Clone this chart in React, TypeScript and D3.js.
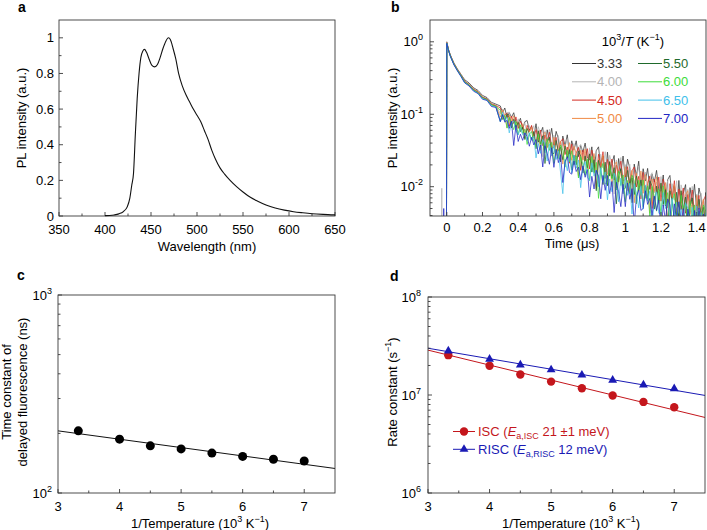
import React from 'react';
import * as d3 from 'd3';

const FONT = "'Liberation Sans', Arial, Helvetica, sans-serif";
const W = 707;
const H = 530;

// ---------- Panel a: PL spectrum ----------
const wavelength = [400, 405, 410, 415, 420, 424, 427, 429, 431, 433, 435, 437, 439, 441, 443, 445, 448, 451, 454, 457, 460, 463, 466, 469, 471, 474, 477, 480, 484, 488, 492, 496, 500, 504, 508, 512, 516, 520, 525, 530, 536, 543, 550, 558, 566, 575, 585, 595, 605, 615, 625, 637, 650];
const plIntensity = [0.002, 0.003, 0.006, 0.012, 0.025, 0.05, 0.1, 0.17, 0.24, 0.46, 0.66, 0.8, 0.89, 0.925, 0.935, 0.92, 0.88, 0.845, 0.837, 0.85, 0.89, 0.94, 0.98, 1.0, 0.99, 0.94, 0.88, 0.8, 0.73, 0.68, 0.64, 0.6, 0.565, 0.53, 0.48, 0.43, 0.37, 0.32, 0.27, 0.235, 0.2, 0.165, 0.135, 0.105, 0.083, 0.062, 0.045, 0.033, 0.024, 0.018, 0.013, 0.009, 0.006];
const specXTicks = [350, 400, 450, 500, 550, 600, 650];
const specYTicks = [0, 0.2, 0.4, 0.6, 0.8, 1];

// ---------- Panel b: transient PL decays ----------
const legendTemps = ['3.33', '4.00', '4.50', '5.00', '5.50', '6.00', '6.50', '7.00'];
const decayColors = ['#333333', '#b4b4b4', '#d42a22', '#f08a45', '#1f6a2c', '#3ddc3a', '#40c0ea', '#2226c4'];
const preTimes = [-0.1, -0.03, -0.028, -0.026, -0.019, -0.017, -0.015, -0.002];
const preValues = [
  [0.001, 0.001, 0.001, 0.001, 0.001, 0.001, 0.001, 0.001],
  [0.001, 0.001, 0.0095, 0.001, 0.001, 0.001, 0.001, 0.001],
  [0.001, 0.001, 0.001, 0.001, 0.001, 0.001, 0.001, 0.001],
  [0.001, 0.001, 0.001, 0.001, 0.001, 0.001, 0.001, 0.001],
  [0.001, 0.001, 0.001, 0.001, 0.001, 0.001, 0.001, 0.001],
  [0.001, 0.001, 0.001, 0.001, 0.001, 0.001, 0.001, 0.001],
  [0.001, 0.001, 0.001, 0.001, 0.001, 0.001, 0.001, 0.001],
  [0.001, 0.001, 0.001, 0.001, 0.001, 0.005, 0.001, 0.001],
];
const earlyTimes = [0, 0.01, 0.02, 0.04, 0.06, 0.08, 0.1, 0.125, 0.15, 0.175, 0.2, 0.225, 0.25, 0.275];
const earlyValues = [
  [1.0, 0.78, 0.66, 0.51, 0.42, 0.355, 0.3, 0.27, 0.232, 0.213, 0.182, 0.17, 0.146, 0.138],
  [0.98, 0.77, 0.65, 0.5, 0.415, 0.35, 0.288, 0.262, 0.225, 0.206, 0.176, 0.164, 0.141, 0.133],
  [0.97, 0.77, 0.65, 0.5, 0.41, 0.345, 0.286, 0.257, 0.222, 0.204, 0.172, 0.163, 0.139, 0.132],
  [0.97, 0.76, 0.64, 0.495, 0.41, 0.343, 0.283, 0.255, 0.22, 0.202, 0.171, 0.161, 0.137, 0.131],
  [0.96, 0.76, 0.64, 0.49, 0.405, 0.34, 0.28, 0.253, 0.217, 0.199, 0.169, 0.16, 0.135, 0.129],
  [0.96, 0.76, 0.635, 0.49, 0.4, 0.337, 0.277, 0.25, 0.214, 0.197, 0.167, 0.158, 0.134, 0.128],
  [0.95, 0.75, 0.63, 0.485, 0.4, 0.333, 0.274, 0.248, 0.211, 0.195, 0.164, 0.157, 0.131, 0.126],
  [0.95, 0.75, 0.63, 0.48, 0.395, 0.33, 0.271, 0.245, 0.208, 0.193, 0.161, 0.155, 0.128, 0.124],
];
// noisy tails, sampled every 0.0125 us from 0.3 to 1.5 us, in units of 1e-4
const lateTimes = d3.range(97).map((i) => 0.3 + i * 0.0125);
const late333 = [
  1300, 1050, 1220, 890, 1050, 910, 1050, 770,
  750, 880, 620, 790, 820, 600, 680, 500,
  740, 410, 550, 660, 320, 610, 430, 640,
  370, 580, 460, 220, 500, 365, 520, 280,
  430, 320, 430, 260, 370, 300, 400, 250,
  235, 355, 160, 315, 355, 185, 265, 130,
  300, 140, 210, 270, 96, 245, 155, 265,
  130, 240, 180, 60, 205, 140, 225, 98,
  177, 120, 179, 92, 149, 116, 168, 90,
  87, 145, 54, 125, 143, 67, 104, 41,
  122, 48, 81, 107, 29, 97, 58, 108,
  47, 96, 70, 20, 83, 52, 93, 34,
  60,
];
const late400 = [
  1015, 1184, 820, 1041, 1072, 781, 872, 638,
  865, 610, 695, 762, 502, 698, 561, 696,
  433, 673, 534, 260, 592, 433, 621, 330,
  514, 376, 508, 307, 428, 351, 460, 287,
  287, 394, 216, 350, 383, 234, 300, 178,
  344, 160, 241, 309, 111, 281, 181, 304,
  149, 271, 204, 79, 234, 158, 253, 111,
  202, 137, 204, 106, 170, 133, 192, 104,
  105, 159, 71, 139, 156, 82, 116, 57,
  138, 54, 92, 121, 33, 110, 65, 121,
  52, 106, 77, 23, 92, 57, 101, 38,
  79, 50, 81, 37, 66, 49, 76, 37,
  53,
];
const late450 = [
  1223, 854, 962, 1046, 683, 939, 745, 919,
  636, 805, 685, 464, 705, 576, 703, 476,
  614, 449, 606, 369, 517, 428, 565, 351,
  349, 479, 261, 421, 459, 278, 354, 211,
  388, 217, 291, 349, 168, 320, 226, 335,
  176, 320, 242, 94, 281, 190, 304, 132,
  238, 161, 241, 124, 199, 155, 225, 121,
  125, 189, 85, 166, 187, 99, 139, 68,
  158, 73, 110, 140, 50, 127, 82, 136,
  63, 127, 93, 27, 110, 70, 121, 45,
  93, 59, 96, 43, 78, 57, 90, 43,
  45, 76, 28, 65, 75, 35, 55, 22,
  50,
];
const late500 = [
  918, 1151, 970, 651, 979, 791, 956, 642,
  771, 633, 741, 545, 650, 568, 662, 488,
  427, 583, 317, 516, 567, 346, 445, 264,
  482, 269, 358, 427, 205, 388, 272, 406,
  231, 361, 288, 140, 318, 232, 333, 176,
  283, 192, 287, 149, 240, 187, 271, 147,
  148, 224, 100, 197, 220, 116, 165, 80,
  189, 88, 132, 168, 60, 153, 98, 165,
  81, 147, 111, 43, 128, 86, 137, 60,
  111, 71, 114, 51, 93, 70, 107, 52,
  54, 88, 33, 77, 88, 41, 64, 25,
  76, 30, 51, 67, 18, 61, 36, 68,
  47,
];
const late550 = [
  796, 992, 806, 1012, 901, 650, 851, 666,
  770, 576, 665, 447, 634, 539, 440, 578,
  334, 593, 388, 502, 209, 407, 482, 292,
  286, 434, 309, 351, 236, 364, 251, 325,
  170, 271, 200, 309, 265, 154, 266, 183,
  284, 159, 236, 88, 231, 170, 107, 218,
  103, 221, 131, 183, 58, 141, 177, 92,
  95, 168, 109, 132, 78, 141, 89, 124,
  53, 102, 67, 121, 102, 49, 102, 64,
  112, 57, 91, 25, 88, 63, 35, 84,
  35, 88, 48, 72, 17, 54, 70, 33,
  35, 67, 41, 52, 27, 56, 33, 50,
  40,
];
const late600 = [
  1141, 845, 966, 643, 902, 760, 612, 799,
  524, 717, 544, 623, 383, 528, 575, 421,
  352, 533, 379, 433, 293, 456, 317, 409,
  210, 333, 244, 376, 321, 186, 318, 220,
  314, 200, 267, 132, 259, 204, 144, 242,
  121, 262, 155, 217, 69, 168, 210, 109,
  112, 196, 127, 154, 90, 164, 104, 145,
  62, 122, 80, 144, 121, 58, 123, 76,
  124, 69, 103, 38, 100, 73, 46, 93,
  40, 103, 56, 83, 19, 62, 80, 38,
  39, 76, 47, 59, 31, 64, 38, 56,
  19, 46, 28, 56, 46, 19, 48, 27,
  37,
];
const late650 = [
  787, 1068, 801, 909, 553, 754, 812, 591,
  518, 653, 520, 555, 434, 552, 438, 495,
  250, 396, 289, 449, 387, 226, 390, 268,
  373, 237, 315, 155, 80, 237, 166, 281,
  154, 274, 180, 234, 97, 188, 222, 135,
  122, 214, 140, 170, 100, 181, 115, 160,
  66, 128, 85, 153, 128, 62, 131, 80,
  136, 76, 112, 42, 110, 81, 51, 103,
  49, 106, 63, 88, 28, 68, 85, 43,
  42, 83, 50, 63, 34, 69, 40, 61,
  21, 49, 30, 60, 50, 20, 52, 30,
  54, 27, 44, 12, 43, 30, 17, 42,
  31,
];
const late700 = [
  792, 988, 777, 823, 638, 802, 370, 705,
  421, 530, 436, 552, 496, 362, 480, 377,
  448, 284, 377, 187, 367, 290, 204, 346,
  185, 328, 215, 276, 114, 220, 259, 157,
  149, 226, 162, 186, 125, 194, 135, 173,
  72, 139, 93, 168, 140, 68, 143, 89,
  143, 80, 118, 44, 115, 85, 53, 108,
  53, 113, 67, 94, 30, 73, 90, 47,
  50, 88, 57, 69, 40, 74, 47, 65,
  23, 56, 34, 68, 56, 23, 58, 33,
  62, 31, 50, 14, 49, 35, 20, 47,
  20, 51, 28, 42, 10, 31, 40, 19,
  29,
];
const lateValues = [late333, late400, late450, late500, late550, late600, late650, late700];
const timeTicks = [0, 0.2, 0.4, 0.6, 0.8, 1, 1.2, 1.4];

// ---------- Panel c: delayed fluorescence time constant ----------
const invTemp = [3.33, 4, 4.5, 5, 5.5, 6, 6.5, 7];
const tauDF = [206, 187, 173, 167, 159, 153, 148, 145];
const fitX = [3, 7.5];
const tauFit = [206, 133];
const invTempTicks = [3, 4, 5, 6, 7];

// ---------- Panel d: rate constants ----------
const kISC = [2.55e7, 1.99e7, 1.62e7, 1.37e7, 1.17e7, 0.99e7, 0.85e7, 0.75e7];
const kRISC = [2.82e7, 2.32e7, 2.03e7, 1.81e7, 1.6e7, 1.42e7, 1.27e7, 1.16e7];
const iscFit = [2.87e7, 5.9e6];
const riscFit = [3.0e7, 9.9e6];

const ISC_COLOR = '#c4161c';
const RISC_COLOR = '#1a1ab4';
const FRAME = '#3a3a3a';

function logMinor(lo: number, hi: number) {
  const out: number[] = [];
  for (let e = Math.floor(Math.log10(lo)); e <= Math.ceil(Math.log10(hi)); e++) {
    for (let k = 2; k <= 9; k++) {
      const v = k * Math.pow(10, e);
      if (v > lo && v < hi) out.push(v);
    }
  }
  return out;
}

function Frame({ x0, x1, y0, y1 }: { x0: number; x1: number; y0: number; y1: number }) {
  return <rect x={x0} y={y0} width={x1 - x0} height={y1 - y0} fill="none" stroke={FRAME} strokeWidth={0.9} />;
}

function XTickMarks({ scale, y, major, minor }: any) {
  return (
    <g stroke={FRAME} strokeWidth={0.9}>
      {major.map((v: number, i: number) => (
        <line key={'M' + i} x1={scale(v)} x2={scale(v)} y1={y} y2={y - 4} />
      ))}
      {minor.map((v: number, i: number) => (
        <line key={'m' + i} x1={scale(v)} x2={scale(v)} y1={y} y2={y - 2.5} />
      ))}
    </g>
  );
}

function YTickMarks({ scale, x, major, minor }: any) {
  return (
    <g stroke={FRAME} strokeWidth={0.9}>
      {major.map((v: number, i: number) => (
        <line key={'M' + i} x1={x} x2={x + 4} y1={scale(v)} y2={scale(v)} />
      ))}
      {minor.map((v: number, i: number) => (
        <line key={'m' + i} x1={x} x2={x + 2.5} y1={scale(v)} y2={scale(v)} />
      ))}
    </g>
  );
}

export default function App() {
  // ----- Panel a -----
  const xa = d3.scaleLinear().domain([350, 650]).range([59, 335]);
  const ya = d3.scaleLinear().domain([0, 1.1]).range([216, 20]);
  const specPath = d3
    .line<number>()
    .x((_, i) => xa(wavelength[i]))
    .y((d) => ya(d))
    .curve(d3.curveMonotoneX)(plIntensity) as string;

  // ----- Panel b -----
  const xb = d3.scaleLinear().domain([-0.094, 1.452]).range([430, 706]);
  const yb = d3.scaleLog().domain([0.00394, 2]).range([216, 20]);
  const decayLine = d3
    .line<[number, number]>()
    .x((d) => xb(d[0]))
    .y((d) => yb(Math.max(d[1], 1e-4)));
  const decayPaths = lateValues.map((vals, s) => {
    const pts: [number, number][] = [];
    preTimes.forEach((t, i) => pts.push([t, preValues[s][i]]));
    earlyTimes.forEach((t, i) => pts.push([t, earlyValues[s][i]]));
    vals.forEach((v, i) => {
      if (i < lateTimes.length) pts.push([lateTimes[i], v / 1e4]);
    });
    return decayLine(pts) as string;
  });

  // ----- Panel c -----
  const xc = d3.scaleLinear().domain([3, 7.5]).range([58, 335]);
  const yc = d3.scaleLog().domain([100, 1000]).range([493, 295]);
  const fitLineC = d3
    .line<number>()
    .x((_, i) => xc(fitX[i]))
    .y((d) => yc(d))(tauFit) as string;

  // ----- Panel d -----
  const xd = d3.scaleLinear().domain([3, 7.5]).range([428, 705]);
  const yd = d3.scaleLog().domain([1e6, 1e8]).range([493, 297]);
  const fitLineD = (vals: number[]) =>
    d3
      .line<number>()
      .x((_, i) => xd(fitX[i]))
      .y((d) => yd(d))(vals) as string;
  const tri = d3.symbol(d3.symbolTriangle, 34)() as string;

  const tickFont = 13;

  return (
    <svg
      width={W}
      height={H}
      style={{ position: 'absolute', left: 0, top: 0, background: '#fff' }}
      fontFamily={FONT}
    >
      <defs>
        <clipPath id="clipB">
          <rect x={430} y={20} width={276} height={196} />
        </clipPath>
        <clipPath id="clipC">
          <rect x={58} y={295} width={277} height={198} />
        </clipPath>
        <clipPath id="clipD">
          <rect x={428} y={297} width={277} height={196} />
        </clipPath>
      </defs>

      {/* ================= Panel a ================= */}
      <text x={18} y={12} fontSize={14} fontWeight="bold">a</text>
      <Frame x0={59} x1={335} y0={20} y1={216} />
      <XTickMarks scale={xa} y={216} major={specXTicks} minor={d3.range(375, 650, 50)} />
      <YTickMarks scale={ya} x={59} major={specYTicks} minor={[0.1, 0.3, 0.5, 0.7, 0.9]} />
      {specXTicks.map((v) => (
        <text key={v} x={xa(v)} y={234} fontSize={tickFont} textAnchor="middle">{v}</text>
      ))}
      {specYTicks.map((v) => (
        <text key={v} x={54} y={ya(v) + 4.5} fontSize={tickFont} textAnchor="end">{String(v)}</text>
      ))}
      <path d={specPath} fill="none" stroke="#111" strokeWidth={1.1} />
      <text x={207} y={251} fontSize={13} textAnchor="middle">Wavelength (nm)</text>
      <text transform="translate(26,118) rotate(-90)" fontSize={13} textAnchor="middle">PL intensity (a.u.)</text>

      {/* ================= Panel b ================= */}
      <text x={391} y={12} fontSize={14} fontWeight="bold">b</text>
      <g clipPath="url(#clipB)">
        {decayPaths.map((d, i) => (
          <path key={i} d={d} fill="none" stroke={decayColors[i]} strokeWidth={0.75} strokeLinejoin="round" />
        ))}
      </g>
      <Frame x0={430} x1={706} y0={20} y1={216} />
      <XTickMarks scale={xb} y={216} major={timeTicks} minor={[0.1, 0.3, 0.5, 0.7, 0.9, 1.1, 1.3]} />
      <YTickMarks scale={yb} x={430} major={[0.01, 0.1, 1]} minor={logMinor(0.00394, 2)} />
      {timeTicks.map((v) => (
        <text key={v} x={xb(v)} y={232} fontSize={tickFont} textAnchor="middle">{String(v)}</text>
      ))}
      {[0, -1, -2].map((e) => (
        <text key={e} x={423} y={yb(Math.pow(10, e)) + 4.5} fontSize={tickFont} textAnchor="end">
          10<tspan dy={-6} fontSize={9}>{e === 0 ? '0' : '-' + Math.abs(e)}</tspan>
        </text>
      ))}
      <text x={572} y={248} fontSize={13} textAnchor="middle">Time (μs)</text>
      <text transform="translate(397,118) rotate(-90)" fontSize={13} textAnchor="middle">PL intensity (a.u.)</text>
      {/* legend b */}
      <text x={633} y={46} fontSize={13} textAnchor="middle">
        10<tspan dy={-6} fontSize={9}>3</tspan>
        <tspan dy={6}>/</tspan>
        <tspan fontStyle="italic">T</tspan> (K<tspan dy={-6} fontSize={9}>−1</tspan>
        <tspan dy={6}>)</tspan>
      </text>
      {legendTemps.map((t, i) => {
        const col = Math.floor(i / 4);
        const row = i % 4;
        const lx = col === 0 ? 572 : 638;
        const ly = 63.5 + row * 18.3;
        return (
          <g key={t}>
            <line x1={lx} x2={lx + 24} y1={ly} y2={ly} stroke={decayColors[i]} strokeWidth={1} />
            <text x={lx + 25} y={ly + 4.6} fontSize={13} fill={decayColors[i]}>{t}</text>
          </g>
        );
      })}

      {/* ================= Panel c ================= */}
      <text x={17} y={280} fontSize={14} fontWeight="bold">c</text>
      <g clipPath="url(#clipC)">
        <path d={fitLineC} fill="none" stroke="#111" strokeWidth={1} />
      </g>
      {invTemp.map((x, i) => (
        <circle key={i} cx={xc(x)} cy={yc(tauDF[i])} r={4.5} fill="#000" />
      ))}
      <Frame x0={58} x1={335} y0={295} y1={493} />
      <XTickMarks scale={xc} y={493} major={invTempTicks} minor={[3.5, 4.5, 5.5, 6.5]} />
      <YTickMarks scale={yc} x={58} major={[100, 1000]} minor={logMinor(100, 1000)} />
      {invTempTicks.map((v) => (
        <text key={v} x={xc(v)} y={511} fontSize={tickFont} textAnchor="middle">{v}</text>
      ))}
      {[2, 3].map((e) => (
        <text key={e} x={52} y={yc(Math.pow(10, e)) + 4.5} fontSize={tickFont} textAnchor="end">
          10<tspan dy={-6} fontSize={9}>{e}</tspan>
        </text>
      ))}
      <text x={200} y={528} fontSize={13} textAnchor="middle">
        1/Temperature (10<tspan dy={-6} fontSize={9}>3</tspan>
        <tspan dy={6}> K</tspan>
        <tspan dy={-6} fontSize={9}>−1</tspan>
        <tspan dy={6}>)</tspan>
      </text>
      <g transform="translate(0,392) rotate(-90)">
        <text x={0} y={11} fontSize={13} textAnchor="middle">Time constant of</text>
        <text x={0} y={27} fontSize={13} textAnchor="middle">delayed fluorescence (ns)</text>
      </g>

      {/* ================= Panel d ================= */}
      <text x={390} y={281} fontSize={14} fontWeight="bold">d</text>
      <g clipPath="url(#clipD)">
        <path d={fitLineD(iscFit)} fill="none" stroke={ISC_COLOR} strokeWidth={1} />
        <path d={fitLineD(riscFit)} fill="none" stroke={RISC_COLOR} strokeWidth={1} />
      </g>
      {invTemp.map((x, i) => (
        <circle key={'i' + i} cx={xd(x)} cy={yd(kISC[i])} r={4.2} fill={ISC_COLOR} />
      ))}
      {invTemp.map((x, i) => (
        <path key={'r' + i} d={tri} transform={`translate(${xd(x)},${yd(kRISC[i])})`} fill={RISC_COLOR} />
      ))}
      <Frame x0={428} x1={705} y0={297} y1={493} />
      <XTickMarks scale={xd} y={493} major={invTempTicks} minor={[3.5, 4.5, 5.5, 6.5]} />
      <YTickMarks scale={yd} x={428} major={[1e6, 1e7, 1e8]} minor={logMinor(1e6, 1e8)} />
      {invTempTicks.map((v) => (
        <text key={v} x={xd(v)} y={511} fontSize={tickFont} textAnchor="middle">{v}</text>
      ))}
      {[6, 7, 8].map((e) => (
        <text key={e} x={421} y={yd(Math.pow(10, e)) + 4.5} fontSize={tickFont} textAnchor="end">
          10<tspan dy={-6} fontSize={9}>{e}</tspan>
        </text>
      ))}
      <text x={571} y={528} fontSize={13} textAnchor="middle">
        1/Temperature (10<tspan dy={-6} fontSize={9}>3</tspan>
        <tspan dy={6}> K</tspan>
        <tspan dy={-6} fontSize={9}>−1</tspan>
        <tspan dy={6}>)</tspan>
      </text>
      <text transform="translate(397,392) rotate(-90)" fontSize={13} textAnchor="middle">
        Rate constant (s<tspan dy={-6} fontSize={9}>−1</tspan>
        <tspan dy={6}>)</tspan>
      </text>
      {/* legend d */}
      <g>
        <line x1={453} x2={475} y1={431.5} y2={431.5} stroke={ISC_COLOR} strokeWidth={1} />
        <circle cx={464} cy={431.5} r={4.2} fill={ISC_COLOR} />
        <text x={478} y={436.3} fontSize={13} fill={ISC_COLOR}>
          ISC (<tspan fontStyle="italic">E</tspan>
          <tspan dy={3} fontSize={9}>a,ISC</tspan>
          <tspan dy={-3}> 21 ±1 meV)</tspan>
        </text>
        <line x1={453} x2={475} y1={449.3} y2={449.3} stroke={RISC_COLOR} strokeWidth={1} />
        <path d={tri} transform="translate(464,449.3)" fill={RISC_COLOR} />
        <text x={478} y={454.1} fontSize={13} fill={RISC_COLOR}>
          RISC (<tspan fontStyle="italic">E</tspan>
          <tspan dy={3} fontSize={9}>a,RISC</tspan>
          <tspan dy={-3}> 12 meV)</tspan>
        </text>
      </g>
    </svg>
  );
}
